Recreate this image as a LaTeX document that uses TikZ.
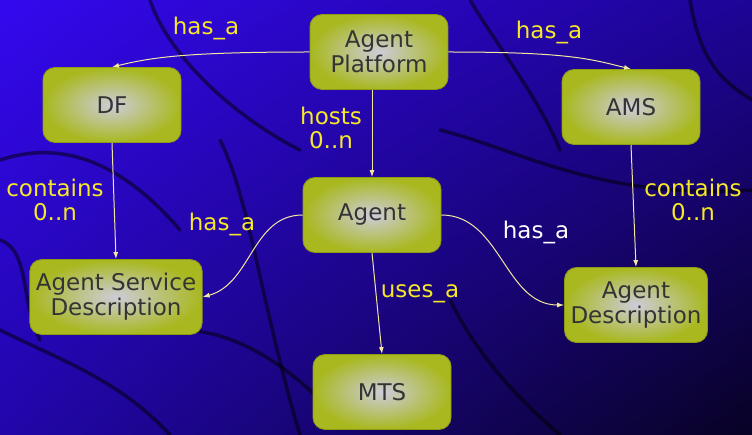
\documentclass[tikz,border=0pt]{standalone}
\usepackage{fontspec}
\setmainfont{DejaVu Sans}
\usetikzlibrary{arrows.meta,shadings}
\definecolor{bgA}{RGB}{52,8,238}
\definecolor{bgB}{RGB}{30,4,150}
\definecolor{bgC}{RGB}{34,6,170}
\definecolor{bgD}{RGB}{8,2,36}
\definecolor{boxout}{RGB}{168,184,30}
\definecolor{boxin}{RGB}{206,204,218}
\definecolor{boxline}{RGB}{140,154,20}
\definecolor{txtgrey}{RGB}{52,52,52}
\definecolor{linkcol}{RGB}{242,232,160}
\definecolor{lblyellow}{RGB}{246,232,40}
\begin{document}
\begin{tikzpicture}[x=1pt,y=-1pt,
  entity/.style={rounded corners=12pt, draw=boxline, line width=0.8pt,
    inner color=boxin, outer color=boxout, text=txtgrey,
    minimum width=138pt, minimum height=75pt, inner xsep=6pt,
    align=center, font=\fontsize{23}{25}\selectfont},
  link/.style={draw=linkcol, line width=1pt, -{Latex[length=7pt,width=5pt]}},
  lbl/.style={text=lblyellow, align=center, font=\fontsize{23}{24}\selectfont},
  crack/.style={draw=black, opacity=0.5, line width=3.5pt, line cap=round}]
% background
\useasboundingbox (0,0) rectangle (752,435);
\shade[upper left=bgA, upper right=bgB, lower left=bgC, lower right=bgD] (0,0) rectangle (752,435);
\draw[crack] (0,160) .. controls (60,140) and (120,160) .. (180,230);
\draw[crack] (0,330) .. controls (60,360) and (120,380) .. (170,435);
\draw[crack] (150,0) .. controls (170,60) and (240,120) .. (300,150);
\draw[crack] (220,140) .. controls (250,200) and (260,300) .. (300,435);
\draw[crack] (440,130) .. controls (520,150) and (600,200) .. (752,190);
\draw[crack] (470,0) .. controls (500,50) and (540,100) .. (560,150);
\draw[crack] (450,300) .. controls (480,360) and (520,400) .. (560,435);
\draw[crack] (0,240) .. controls (30,250) and (20,300) .. (40,340);
\draw[crack] (690,0) .. controls (700,60) and (720,80) .. (752,100);
\draw[crack] (180,330) .. controls (230,330) and (280,360) .. (320,400);
% boxes
\node[entity] (platform) at (379,52) {Agent\\Platform};
\node[entity] (df) at (112,105) {DF};
\node[entity] (ams) at (631,107) {AMS};
\node[entity] (agent) at (372,215) {Agent};
\node[entity] (asd) at (116,297) {Agent Service\\Description};
\node[entity] (ad) at (636,305) {Agent\\Description};
\node[entity] (mts) at (382,392) {MTS};
% links
\draw[link] (platform.west) .. controls +(-120,0) and +(40,-10) .. (df.north);
\draw[link] (platform.east) .. controls +(120,0) and +(-40,-10) .. (ams.north);
\draw[link] (agent.north |- platform.south) -- (agent.north);
\draw[link] (df.south) -- (asd.north);
\draw[link] (ams.south) -- (ad.north);
\draw[link] (agent.west) to[out=180,in=15] (asd.east);
\draw[link] (agent.east) to[out=0,in=180] (ad.west);
\draw[link] (agent.south) -- (mts.north);
% labels
\node[lbl] (l1) at (206,28) {has\_a};
\node[lbl] (l2) at (549,32) {has\_a};
\node[lbl] (l3) at (331,128) {hosts\\0..n};
\node[lbl] (l4) at (55,200) {contains\\0..n};
\node[lbl] (l5) at (693,200) {contains\\0..n};
\node[lbl] (l6) at (222,224) {has\_a};
\node[lbl, text=white] (l7) at (536,232) {has\_a};
\node[lbl] (l8) at (420,294) {uses\_a};
\end{tikzpicture}
\end{document}
